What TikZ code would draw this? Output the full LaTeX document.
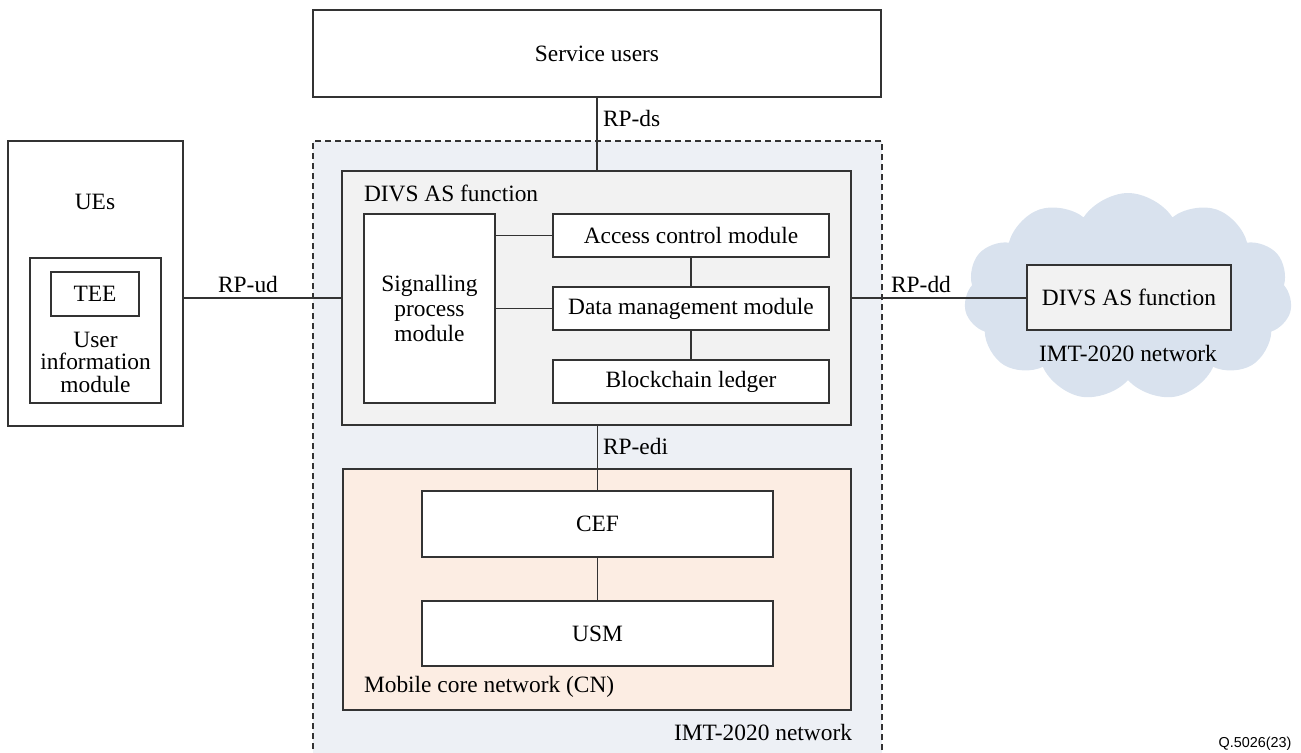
\documentclass[tikz,border=0pt]{standalone}
\usepackage{fontspec}
\setmainfont{Liberation Serif}
\newfontfamily\tms{Liberation Serif}
\newfontfamily\qsans{Liberation Sans}
\usetikzlibrary{shapes.symbols}
\definecolor{ln}{HTML}{333333}
\definecolor{imtfill}{HTML}{EDF0F5}
\definecolor{divsfill}{HTML}{F2F2F2}
\definecolor{cnfill}{HTML}{FCEDE3}
\definecolor{cloudfill}{HTML}{D9E2EE}
\tikzset{
  base/.style={inner sep=0pt, outer sep=0pt, font=\tms\fontsize{11.7}{14}\selectfont},
  box/.style={base, draw=ln, line width=0.8pt, fill=white},
  conn/.style={draw=ln, line width=0.8pt},
  lbl/.style={base, text=black},
}
\begin{document}
\begin{tikzpicture}[x=0.5pt,y=-0.5pt]
\useasboundingbox (0,0) rectangle (1301,752);
% IMT-2020 dashed frame
\node[base, draw=ln, line width=0.8pt, dash pattern=on 3pt off 2pt, fill=imtfill,
  minimum width=284.5pt, minimum height=310pt] (imt) at (597.5,451) {};
% cloud
\node[base, cloud, cloud puffs=11, cloud puff arc=115, aspect=1.6, fill=cloudfill,
  minimum width=164pt, minimum height=104pt] (cloud) at (1128,297) {};
% service users
\node[box, minimum width=284pt, minimum height=43.5pt] (su) at (597,53.5) {Service users};
% DIVS AS function
\node[box, fill=divsfill, minimum width=254.5pt, minimum height=127pt] (divs) at (596.5,298) {};
\node[box, minimum width=65.5pt, minimum height=94.5pt] (sig) at (429.5,308.5) {};
\node[box, minimum width=138pt, minimum height=21.5pt] (acc) at (691,235.5) {Access control module};
\node[box, minimum width=138pt, minimum height=21.5pt] (dat) at (691,308.5) {Data management module};
\node[box, minimum width=138pt, minimum height=21.5pt] (blk) at (691,381.5) {Blockchain ledger};
% mobile core network
\node[box, fill=cnfill, minimum width=254pt, minimum height=120.5pt] (cn) at (597,589.5) {};
\node[box, minimum width=175.5pt, minimum height=33pt] (cef) at (597.5,524) {CEF};
\node[box, minimum width=175.5pt, minimum height=32.5pt] (usm) at (597.5,633.5) {USM};
% UEs
\node[box, minimum width=87.5pt, minimum height=142.5pt] (ue) at (95.5,283.5) {};
\node[box, minimum width=65.5pt, minimum height=72.5pt] (uim) at (95.5,330.5) {};
\node[box, minimum width=44pt, minimum height=22pt] (tee) at (95,294) {TEE};
% cloud DIVS
\node[box, fill=divsfill, minimum width=102pt, minimum height=32.5pt] (cdivs) at (1129,297.5) {DIVS AS function};

% connectors
\draw[conn] (su.south) -- (su.south |- divs.north);
\draw[conn] (divs.west) -- (divs.west -| ue.east);
\draw[conn] (divs.east) -- (divs.east -| cdivs.west);
\draw[conn] (cef.north) -- (cef.north |- divs.south);
\draw[conn] (cef.south) -- (usm.north);
\draw[conn] (acc.west) -- (acc.west -| sig.east);
\draw[conn] (dat.west) -- (dat.west -| sig.east);
\draw[conn] (acc.south) -- (acc.south |- dat.north);
\draw[conn] (dat.south) -- (dat.south |- blk.north);

% labels
\node[lbl, anchor=west] (lds) at (603,118) {RP-ds};
\node[lbl, anchor=west] (ledi) at (603,446) {RP-edi};
\node[lbl] (lud) at (248,284) {RP-ud};
\node[lbl] (ldd) at (921,284) {RP-dd};
\node[lbl] (lue) at (95,202) {UEs};
\node[lbl, align=center, font=\tms\fontsize{11.7}{11.25}\selectfont] (luim) at (95.5,362) {User\\information\\module};
\node[lbl, align=center, font=\tms\fontsize{11.7}{12.5}\selectfont] (lsig) at (429.5,308) {Signalling\\process\\module};
\node[lbl, anchor=west] (ldivs) at (364,193) {DIVS AS function};
\node[lbl, anchor=west] (lcn) at (364,687) {Mobile core network (CN)};
\node[lbl, anchor=east] (limt) at (852,732) {IMT-2020 network};
\node[lbl] (lcimt) at (1128,353) {IMT-2020 network};
\node[inner sep=0pt, font=\qsans\fontsize{7.2}{9}\selectfont] (q) at (1255,744) {Q.5026(23)};
\end{tikzpicture}
\end{document}
